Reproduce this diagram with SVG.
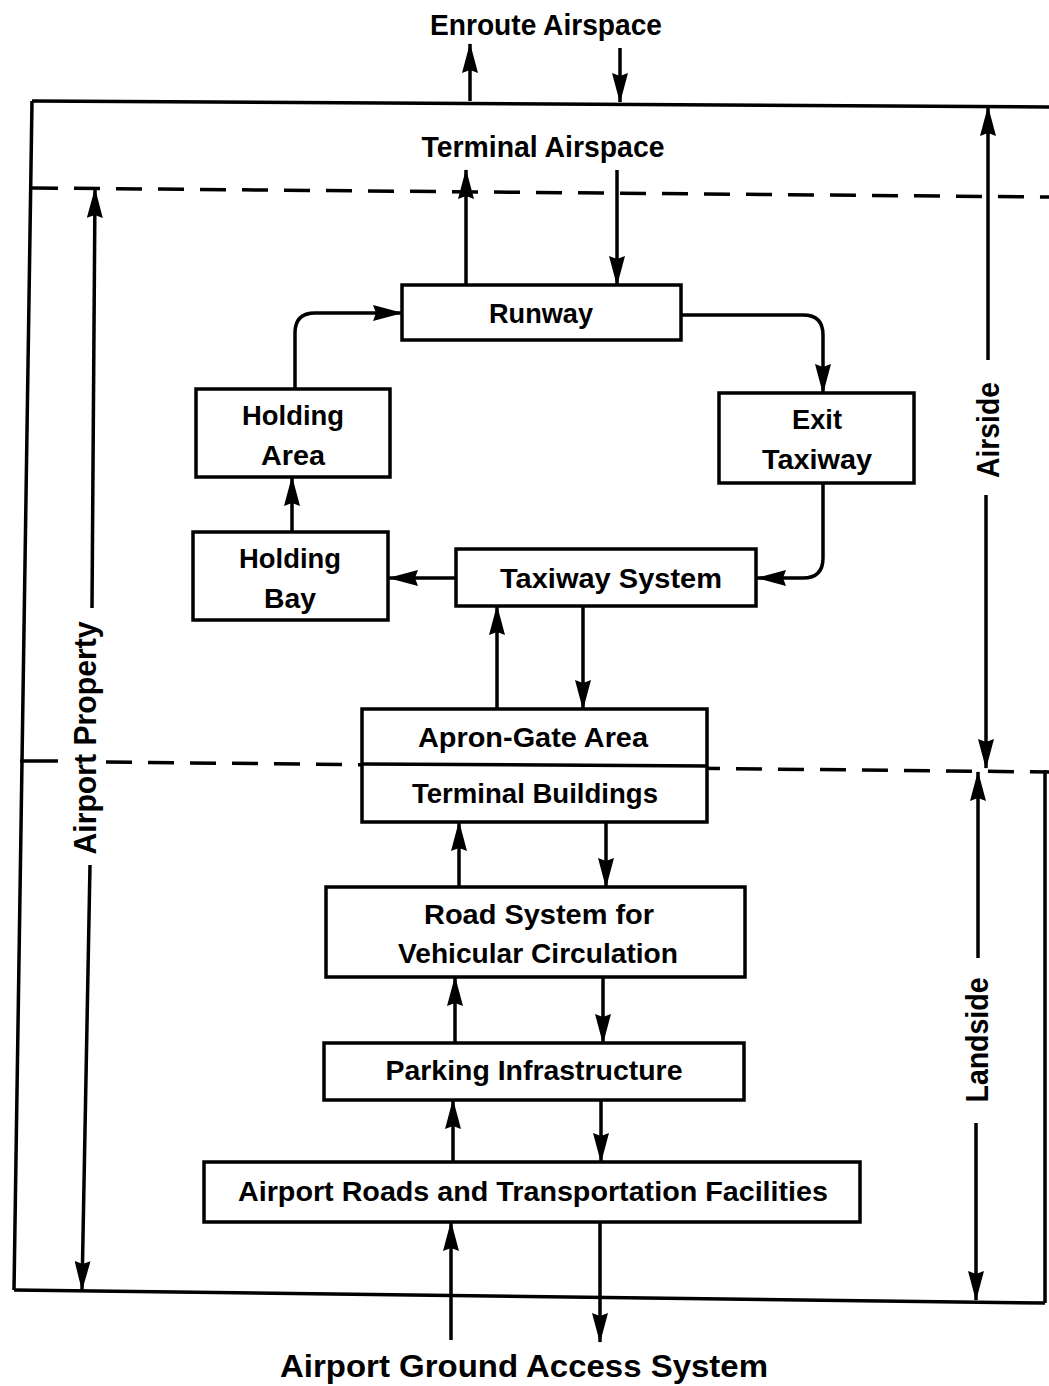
<svg xmlns="http://www.w3.org/2000/svg" width="1049" height="1386" viewBox="0 0 1049 1386">
<style>
.box{fill:#fff;stroke:#000;stroke-width:3.5}
.ln{fill:none;stroke:#000;stroke-width:3.5}
.dash{fill:none;stroke:#000;stroke-width:3.5;stroke-dasharray:26 16}
.t{font-family:"Liberation Sans",Arial,sans-serif;font-weight:bold;font-size:28px;fill:#000;text-anchor:middle}
.big{font-size:30px}
.side{font-size:31px}
.gas{font-size:32px;font-weight:900}
</style>
<defs>
<marker id="ah" viewBox="0 0 30 16" refX="29" refY="8" markerWidth="30" markerHeight="16" markerUnits="userSpaceOnUse" orient="auto-start-reverse">
<path d="M0,0 L30,8 L0,16 L3,8 Z" fill="#000"/>
</marker>
</defs>
<rect width="1049" height="1386" fill="#fff"/>

<g id="frame">
<line class="ln" x1="32" y1="101" x2="1049" y2="107"/>
<line class="ln" x1="32" y1="101" x2="14" y2="1290"/>
<line class="ln" x1="14" y1="1290" x2="1045" y2="1303"/>
<line class="ln" x1="1045" y1="770" x2="1045" y2="1303"/>
<line class="dash" x1="32" y1="188" x2="1049" y2="197"/>
<line class="ln" x1="20" y1="761" x2="58" y2="761"/>
<line class="dash" x1="106" y1="762" x2="1049" y2="772"/>
</g>

<g id="labels">
<text class="t big" x="546" y="35" textLength="232" lengthAdjust="spacingAndGlyphs">Enroute Airspace</text>
<text class="t big" x="543" y="157" textLength="243" lengthAdjust="spacingAndGlyphs">Terminal Airspace</text>
<text class="t gas" x="524" y="1377" textLength="488" lengthAdjust="spacingAndGlyphs">Airport Ground Access System</text>
<text class="t side" transform="translate(999,430) rotate(-90)" textLength="96" lengthAdjust="spacingAndGlyphs">Airside</text>
<text class="t side" transform="translate(988,1040) rotate(-90)" textLength="125" lengthAdjust="spacingAndGlyphs">Landside</text>
<text class="t side" transform="translate(96,738) rotate(-90)" textLength="233" lengthAdjust="spacingAndGlyphs">Airport Property</text>
</g>

<g id="connectors">
<line class="ln" x1="470" y1="101" x2="470" y2="44" marker-end="url(#ah)"/>
<line class="ln" x1="620" y1="48" x2="620" y2="102" marker-end="url(#ah)"/>
<line class="ln" x1="466" y1="285" x2="466" y2="170" marker-end="url(#ah)"/>
<line class="ln" x1="617" y1="170" x2="617" y2="285" marker-end="url(#ah)"/>
<path class="ln" d="M681,315 H803 Q823,315 823,335 V393" marker-end="url(#ah)"/>
<path class="ln" d="M823,483 V558 Q823,578 803,578 H757" marker-end="url(#ah)"/>
<line class="ln" x1="456" y1="578" x2="389" y2="578" marker-end="url(#ah)"/>
<line class="ln" x1="292" y1="532" x2="292" y2="477" marker-end="url(#ah)"/>
<path class="ln" d="M295,389 V333 Q295,313 315,313 H402" marker-end="url(#ah)"/>
<line class="ln" x1="497" y1="709" x2="497" y2="606" marker-end="url(#ah)"/>
<line class="ln" x1="583" y1="606" x2="583" y2="709" marker-end="url(#ah)"/>
<line class="ln" x1="459" y1="887" x2="459" y2="822" marker-end="url(#ah)"/>
<line class="ln" x1="606" y1="822" x2="606" y2="887" marker-end="url(#ah)"/>
<line class="ln" x1="455" y1="1043" x2="455" y2="977" marker-end="url(#ah)"/>
<line class="ln" x1="603" y1="977" x2="603" y2="1043" marker-end="url(#ah)"/>
<line class="ln" x1="453" y1="1162" x2="453" y2="1100" marker-end="url(#ah)"/>
<line class="ln" x1="601" y1="1100" x2="601" y2="1162" marker-end="url(#ah)"/>
<line class="ln" x1="451" y1="1340" x2="451" y2="1222" marker-end="url(#ah)"/>
<line class="ln" x1="600" y1="1222" x2="600" y2="1342" marker-end="url(#ah)"/>
<line class="ln" x1="988" y1="360" x2="988" y2="107" marker-end="url(#ah)"/>
<line class="ln" x1="986" y1="495" x2="986" y2="768" marker-end="url(#ah)"/>
<line class="ln" x1="978" y1="958" x2="978" y2="772" marker-end="url(#ah)"/>
<line class="ln" x1="976" y1="1123" x2="976" y2="1300" marker-end="url(#ah)"/>
<line class="ln" x1="92" y1="608" x2="95" y2="189" marker-end="url(#ah)"/>
<line class="ln" x1="90" y1="865" x2="82" y2="1290" marker-end="url(#ah)"/>
</g>

<g id="runway"><rect class="box" x="402" y="285" width="279" height="55"/><text class="t" x="541" y="323" textLength="104" lengthAdjust="spacingAndGlyphs">Runway</text></g>
<g id="holding-area"><rect class="box" x="196" y="389" width="194" height="88"/><text class="t" x="293" y="425" textLength="102" lengthAdjust="spacingAndGlyphs">Holding</text><text class="t" x="293" y="465" textLength="64" lengthAdjust="spacingAndGlyphs">Area</text></g>
<g id="exit-taxiway"><rect class="box" x="719" y="393" width="195" height="90"/><text class="t" x="817" y="429" textLength="50" lengthAdjust="spacingAndGlyphs">Exit</text><text class="t" x="817" y="469" textLength="110" lengthAdjust="spacingAndGlyphs">Taxiway</text></g>
<g id="holding-bay"><rect class="box" x="193" y="532" width="195" height="88"/><text class="t" x="290" y="568" textLength="102" lengthAdjust="spacingAndGlyphs">Holding</text><text class="t" x="290" y="608" textLength="52" lengthAdjust="spacingAndGlyphs">Bay</text></g>
<g id="taxiway-system"><rect class="box" x="456" y="549" width="300" height="57"/><text class="t" x="611" y="588" textLength="222" lengthAdjust="spacingAndGlyphs">Taxiway System</text></g>
<g id="apron-terminal"><rect class="box" x="362" y="709" width="345" height="113"/><line class="ln" x1="362" y1="764" x2="707" y2="766"/><text class="t" x="533" y="747" textLength="230" lengthAdjust="spacingAndGlyphs">Apron-Gate Area</text><text class="t" x="535" y="803" textLength="246" lengthAdjust="spacingAndGlyphs">Terminal Buildings</text></g>
<g id="road-system"><rect class="box" x="326" y="887" width="419" height="90"/><text class="t" x="539" y="924" textLength="230" lengthAdjust="spacingAndGlyphs">Road System for</text><text class="t" x="538" y="963" textLength="280" lengthAdjust="spacingAndGlyphs">Vehicular Circulation</text></g>
<g id="parking"><rect class="box" x="324" y="1043" width="420" height="57"/><text class="t" x="534" y="1080" textLength="297" lengthAdjust="spacingAndGlyphs">Parking Infrastructure</text></g>
<g id="airport-roads"><rect class="box" x="204" y="1162" width="656" height="60"/><text class="t" x="533" y="1201" textLength="590" lengthAdjust="spacingAndGlyphs">Airport Roads and Transportation Facilities</text></g>
</svg>
